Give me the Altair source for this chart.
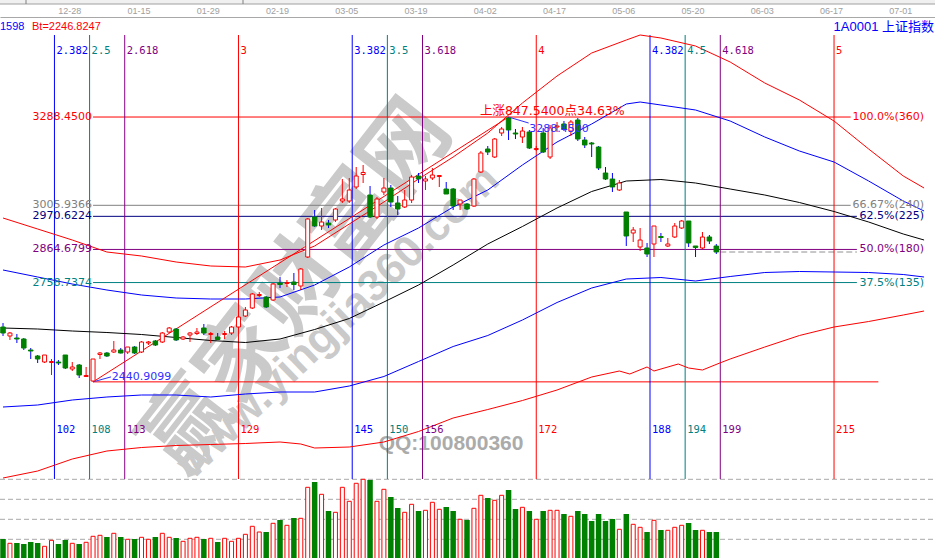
import altair as alt
import pandas as pd

# Daily K-line of the Shanghai Composite (1A0001) with Fibonacci time zones
# and retracement levels measured from the 2440.91 swing low.
# Bars are numbered t; bar t occupies slot t of the time count.
FIRST_BAR = 95

opens = [2616.5, 2587.7, 2581.3, 2578.1, 2542.9, 2523.7, 2504.5, 2502.9, 2504.5, 2526.9,
         2482.1, 2494.9, 2458.1, 2443.7, 2528.5, 2533.3, 2536.5, 2542.9, 2536.5, 2552.5,
         2536.5, 2565.3, 2571.7, 2568.5, 2600.5, 2610.1, 2578.1, 2590.9, 2595.7, 2613.3,
         2592.5, 2584.5, 2592.5, 2597.3, 2616.5, 2651.7, 2677.3, 2717.3, 2712.5, 2702.9,
         2757.3, 2755.7, 2760.5, 2747.7, 2840.5, 2968.5, 2939.7, 2949.3, 2958.9, 3019.7,
         3019.7, 3064.5, 3104.5, 3038.9, 2968.5, 3048.5, 3061.3, 3013.3, 3000.5, 3022.9,
         3099.7, 3083.7, 3093.3, 3098.1, 3058.1, 3058.1, 3010.1, 3010.1, 3003.7, 3112.5,
         3186.1, 3160.5, 3237.3, 3285.3, 3237.3, 3224.5, 3240.5, 3184.5, 3237.3, 3160.5,
         3256.5, 3266.1, 3243.7, 3278.9, 3214.9, 3205.3, 3192.5, 3109.3, 3090.1, 3054.9,
         2984.5, 2917.3, 2872.5, 2869.3, 2882.1, 2906.1, 2875.7, 2904.5, 2933.3, 2955.7,
         2875.7, 2869.3, 2904.5, 2875.7]
closes = [2597.3, 2597.3, 2578.1, 2549.3, 2539.7, 2514.1, 2526.9, 2506.1, 2501.3, 2485.3,
          2488.5, 2462.9, 2461.3, 2514.1, 2533.3, 2523.7, 2542.9, 2533.3, 2552.5, 2533.3,
          2568.5, 2568.5, 2558.9, 2597.3, 2613.3, 2574.9, 2584.5, 2597.3, 2600.5, 2597.3,
          2595.7, 2576.5, 2595.7, 2616.5, 2648.5, 2670.9, 2722.1, 2720.5, 2680.5, 2754.1,
          2752.5, 2758.9, 2752.5, 2802.1, 2962.1, 2939.7, 2952.5, 2942.9, 2994.1, 3026.1,
          3054.9, 3099.7, 3110.9, 2968.5, 3026.1, 3061.3, 3016.5, 2994.1, 3022.9, 3096.5,
          3090.1, 3090.1, 3102.9, 3101.3, 3042.1, 3003.7, 3022.9, 2994.1, 3090.1, 3173.3,
          3176.5, 3218.1, 3250.1, 3246.9, 3234.1, 3243.7, 3189.3, 3187.7, 3176.5, 3253.3,
          3259.7, 3250.1, 3272.5, 3218.1, 3198.9, 3202.1, 3125.3, 3090.1, 3064.5, 3077.3,
          2907.7, 2926.9, 2894.9, 2850.1, 2939.7, 2902.9, 2882.1, 2939.7, 2955.7, 2885.3,
          2870.9, 2904.5, 2891.7, 2856.5]
highs = [2629.3, 2600.5, 2594.1, 2581.3, 2549.3, 2526.9, 2526.9, 2514.1, 2510.9, 2526.9,
         2504.5, 2498.1, 2488.5, 2514.1, 2536.5, 2536.5, 2571.7, 2549.3, 2552.5, 2555.7,
         2571.7, 2571.7, 2574.9, 2600.5, 2616.5, 2613.3, 2587.7, 2600.5, 2613.3, 2626.1,
         2600.5, 2597.3, 2603.7, 2619.7, 2654.9, 2680.5, 2725.3, 2728.5, 2715.7, 2757.3,
         2776.5, 2766.9, 2789.3, 2805.3, 2965.3, 2990.9, 2997.3, 2958.9, 2997.3, 3090.1,
         3093.3, 3128.5, 3134.9, 3067.7, 3032.5, 3093.3, 3070.9, 3035.7, 3054.9, 3102.9,
         3109.3, 3099.7, 3125.3, 3102.9, 3080.5, 3061.3, 3022.9, 3013.3, 3093.3, 3179.7,
         3195.7, 3221.3, 3256.5, 3288.45, 3250.1, 3256.5, 3246.9, 3195.7, 3253.3, 3262.9,
         3272.5, 3275.7, 3278.9, 3285.3, 3224.5, 3208.5, 3195.7, 3128.5, 3109.3, 3086.9,
         2984.5, 2936.5, 2933.3, 2885.3, 2939.7, 2917.3, 2901.3, 2949.3, 2958.9, 2955.7,
         2875.7, 2920.5, 2910.9, 2882.1]
lows = [2587.7, 2574.9, 2565.3, 2542.9, 2514.1, 2501.3, 2501.3, 2462.9, 2494.9, 2482.1,
        2475.7, 2453.3, 2456.5, 2440.91, 2514.1, 2520.5, 2533.3, 2531.7, 2530.1, 2530.1,
        2533.3, 2558.9, 2555.7, 2565.3, 2597.3, 2571.7, 2574.9, 2568.5, 2590.9, 2590.9,
        2565.3, 2574.9, 2578.1, 2590.9, 2613.3, 2648.5, 2674.1, 2712.5, 2677.3, 2699.7,
        2741.3, 2744.5, 2734.9, 2734.9, 2837.3, 2936.5, 2926.9, 2933.3, 2952.5, 3013.3,
        3013.3, 3058.1, 3077.3, 2965.3, 2962.1, 3038.9, 3000.5, 2974.9, 2997.3, 3013.3,
        3077.3, 3054.9, 3086.9, 3064.5, 3042.1, 2990.9, 2990.9, 2990.9, 3000.5, 3109.3,
        3166.9, 3157.3, 3227.7, 3214.9, 3218.1, 3205.3, 3186.1, 3179.7, 3173.3, 3154.1,
        3240.5, 3243.7, 3227.7, 3211.7, 3189.3, 3160.5, 3118.9, 3086.9, 3048.5, 3051.7,
        2875.7, 2888.5, 2859.7, 2840.5, 2840.5, 2888.5, 2872.5, 2901.3, 2930.1, 2872.5,
        2840.5, 2866.1, 2882.1, 2850.1]
volumes = [101.5, 80, 81.5, 76.5, 86.5, 81.5, 65, 95, 76.5, 96.5,
           80, 76.5, 85, 115, 120, 111.5, 130, 111.5, 100, 101.5,
           110, 100, 111.5, 130, 110, 106.5, 90, 105, 110, 101.5,
           105, 86.5, 105, 90, 105, 125, 165, 136.5, 136.5, 180,
           196.5, 170, 206.5, 205, 360, 386.5, 325, 241.5, 235, 360,
           290, 380, 400, 396.5, 290, 350, 311.5, 256.5, 235, 275,
           241.5, 245, 285, 250, 261.5, 241.5, 200, 196.5, 255, 320,
           306.5, 295, 320, 346.5, 251.5, 260, 241.5, 200, 241.5, 245,
           245, 226.5, 215, 241.5, 226.5, 191.5, 226.5, 191.5, 201.5, 150,
           226.5, 175, 160, 136.5, 195, 146.5, 145, 160, 170, 181.5,
           146.5, 145, 136.5, 136.5]

# Band / moving-average curves (sampled every five bars, extended forward)
ma_t = [95, 100, 105, 110, 115, 120, 125, 130, 135, 140, 145, 150, 155, 160,
        165, 170, 175, 180, 185, 190, 195, 200, 205, 210, 215, 220, 225, 228]
band_t = [95, 100, 105, 110, 115, 120, 125, 130, 135, 140, 145, 150, 155, 160,
          165, 170, 175, 180, 185, 187, 190, 195, 200, 205, 210, 215, 220, 225, 228]
upper_red = [2965.3, 2930.1, 2894.9, 2856.5, 2843.7, 2824.5, 2811.7, 2808.5, 2830.9, 2875.7,
             2946.1, 3016.5, 3090.1, 3160.5, 3237.3, 3333.3, 3419.7, 3493.3, 3534.9, 3550.9,
             3541.3, 3515.7, 3464.5, 3397.3, 3342.9, 3275.7, 3186.1, 3099.7, 3061.3]
upper_blue = [2798.9, 2776.5, 2754.1, 2734.9, 2718.9, 2709.3, 2706.1, 2706.1, 2712.5, 2750.9,
              2808.5, 2878.9, 2933.3, 3000.5, 3054.9, 3134.9, 3208.5, 3266.1, 3330.1, 3336.5,
              3326.9, 3310.9, 3275.7, 3224.5, 3179.7, 3144.5, 3083.7, 3019.7, 2987.7]
middle_black = [2613.3, 2610.1, 2603.7, 2598.9, 2592.5, 2582.9, 2573.3, 2566.9, 2578.1, 2608.5,
                2643.7, 2696.5, 2750.9, 2814.9, 2882.1, 2938.1, 2997.3, 3050.1, 3083.7, 3088.5,
                3077.3, 3058.1, 3038.9, 3014.9, 2986.1, 2952.5, 2914.1, 2894.9]
lower_blue = [2360.5, 2366.9, 2382.9, 2392.5, 2398.9, 2398.9, 2392.5, 2402.1, 2408.5, 2408.5,
              2427.7, 2458.1, 2506.1, 2554.1, 2589.3, 2638.9, 2694.9, 2741.3, 2770.1, 2774.9,
              2763.7, 2778.1, 2790.9, 2794.1, 2792.5, 2790.9, 2784.5, 2776.5]
lower_red_t = [95, 100, 105, 110, 115, 120, 125, 130, 135, 138, 140, 145, 150, 155, 160, 165,
               170, 175, 180, 184, 185.5, 188, 189, 192.5, 194, 196, 198.5, 200, 205, 210,
               215, 220, 225, 228]
lower_red = [2133.3, 2155.7, 2194.1, 2219.7, 2230.9, 2237.3, 2240.5, 2243.7, 2248.5, 2242.1,
             2229.3, 2232.5, 2248.5, 2282.1, 2325.3, 2352.5, 2381.3, 2414.9, 2456.5, 2475.7,
             2466.1, 2488.5, 2475.7, 2498.1, 2485.3, 2478.9, 2501.3, 2514.1, 2552.5, 2589.3,
             2616.5, 2634.1, 2654.9, 2667.7]

# Fibonacci time zones (base cycle of 43 bars)
TIME_BASE = 43
time_ratios = ['2.382', '2.5', '2.618', '3', '3.382', '3.5', '3.618', '4',
               '4.382', '4.5', '4.618', '5']
time_counts = [102, 108, 113, 129, 145, 150, 156, 172, 188, 194, 199, 215]
time_colors = ['#0000ff', '#008080', '#800080', '#ff0000'] * 3

# Fibonacci retracement of the swing
swing_low_t, swing_low = 108, 2440.9099
swing_high_t, swing_high = 168, 3288.4500
fib_prices = [3288.4500, 3005.9366, 2970.6224, 2864.6799, 2758.7374]
fib_texts = ['100.0%(360)', '66.67%(240)', '62.5%(225)', '50.0%(180)', '37.5%(135)']
fib_colors = ['#ff0000', '#808080', '#000080', '#800080', '#008080']
fib_end_t = [217.4, 217.4, 218.3, 218.3, 218.3]

date_labels = ['12-14', '12-28', '01-15', '01-29', '02-19', '03-05', '03-19',
               '04-02', '04-17', '05-06', '05-20', '06-03', '06-17', '07-01']
date_ticks = [94.55 + 10 * i for i in range(len(date_labels))]
vol_grid = [100, 200, 300, 400]

RED, GREEN = '#ff0000', '#008000'
PANE_TOP, PANE_BOTTOM = 3550.9, 2130.1        # price extent of the zone lines
TOP_LABEL_P, BOTTOM_LABEL_P = 3499.7, 2286.9  # rows for the zone captions
MONO = 'DejaVu Sans Mono'
SANS = 'DejaVu Sans'
CJK = 'DejaVu Sans, Noto Sans CJK SC'

# ---------------- tables ----------------
bars = list(range(FIRST_BAR, FIRST_BAR + len(opens)))
kline = pd.DataFrame({'t': bars, 'open': opens, 'close': closes,
                      'high': highs, 'low': lows, 'vol': volumes})
kline['dir'] = ['up' if c >= o else 'down' for o, c in zip(opens, closes)]
kline['base'] = 0

curves = pd.concat([
    pd.DataFrame({'t': band_t, 'p': upper_red, 'name': 'ur'}),
    pd.DataFrame({'t': band_t, 'p': upper_blue, 'name': 'ub'}),
    pd.DataFrame({'t': ma_t, 'p': middle_black, 'name': 'mk'}),
    pd.DataFrame({'t': ma_t, 'p': lower_blue, 'name': 'lb'}),
    pd.DataFrame({'t': lower_red_t, 'p': lower_red, 'name': 'lr'}),
])

zones = pd.DataFrame({'t': [TIME_BASE * float(r) for r in time_ratios],
                      'ratio': time_ratios, 'count': [str(c) for c in time_counts],
                      'color': time_colors, 'top': PANE_TOP, 'bottom': PANE_BOTTOM,
                      'top_lab': TOP_LABEL_P, 'bot_lab': BOTTOM_LABEL_P})

levels = pd.DataFrame({'t': swing_low_t, 't2': fib_end_t, 'p': fib_prices,
                       'left': [f'{p:.4f}' for p in fib_prices], 'right': fib_texts,
                       'color': fib_colors, 't_right': 228.0})

last_t = bars[-1]
low_line = pd.DataFrame({'t': [swing_low_t], 't2': [221.4], 'p': [swing_low]})
last_line = pd.DataFrame({'t': [last_t + 0.57], 't2': [218.3], 'p': [closes[-1]]})
trend = pd.DataFrame({'t': [swing_low_t], 't2': [swing_high_t],
                      'p': [swing_low], 'p2': [swing_high]})
links = pd.DataFrame({'t': [swing_low_t, swing_high_t], 't2': [110.6, 170.9],
                      'p': [swing_low, swing_high], 'p2': [2456.9, 3269.3]})
swing_notes = pd.DataFrame({
    't': [110.7, 171.0], 'p': [2458.1, 3250.1],
    'text': [f'{swing_low:.4f}', f'{swing_high:.4f}']})
rise = round(swing_high - swing_low, 2)
rise_note = pd.DataFrame({'t': [163.86], 'p': [3307.7],
                          'text': [f'上涨{rise:.4f}点34.63%']})
marks_wm = pd.DataFrame({'t': [137.7, 143.4], 'p': [2741.3, 2632.5],
                         'text': ['赢家财富网', 'www.yingjia360.com']})
qq = pd.DataFrame({'t': [159.7], 'p': [2243.7], 'text': ['QQ:100800360']})
vgrid = pd.DataFrame({'vol': vol_grid})
one = pd.DataFrame({'k': [0]})

# ---------------- scales / encodings ----------------
x_scale = alt.Scale(domain=[95.2857, 228.8571], nice=False, zero=False)
label_expr = ('[' + ','.join(f"'{d}'" for d in date_labels) + ']'
              '[round((datum.value - 94.55) / 10)]')
date_axis = alt.Axis(orient='top', values=date_ticks, labelExpr=label_expr, title=None,
                     ticks=False, grid=False, domainColor='#a8a8a8', domainWidth=1,
                     labelColor='#a0a0a0', labelFont='Liberation Sans', labelFontSize=9,
                     labelPadding=2, labelFlush=False, labelOverlap=False)
p_scale = alt.Scale(domain=[1877.3, 3608.5], nice=False, zero=False)
v_scale = alt.Scale(domain=[6.5, 2711.5], nice=False, zero=False)


def X(field='t'):
    return alt.X(f'{field}:Q', scale=x_scale, axis=date_axis)


def PY(field='p'):
    return alt.Y(f'{field}:Q', scale=p_scale, axis=None)


def VY(field='vol'):
    return alt.Y(f'{field}:Q', scale=v_scale, axis=None)


COL = alt.Color('color:N', scale=None)
layers = []

# watermark
layers.append(alt.Chart(marks_wm.iloc[[0]]).mark_text(
    angle=308, font='Noto Sans CJK SC', fontSize=88, fontWeight='bold', color='#cacaca'
).encode(x=X(), y=PY(), text='text:N'))
layers.append(alt.Chart(marks_wm.iloc[[1]]).mark_text(
    angle=316, font='Liberation Sans', fontSize=44, fontWeight='bold', color='#cacaca'
).encode(x=X(), y=PY(), text='text:N'))
layers.append(alt.Chart(qq).mark_text(
    font='Liberation Sans', fontSize=21, fontWeight='bold', color='#ababab'
).encode(x=X(), y=PY(), text='text:N'))

# volume grid
layers.append(alt.Chart(vgrid).mark_rule(color='#a8a8a8', strokeDash=[5, 3], strokeWidth=1)
              .encode(x=alt.value(0), x2=alt.value(935), y=VY()))

# retracement levels
layers.append(alt.Chart(levels).mark_rule(strokeWidth=1)
              .encode(x=X(), x2='t2:Q', y=PY(), color=COL))
layers.append(alt.Chart(low_line).mark_rule(color=RED, strokeWidth=1)
              .encode(x=X(), x2='t2:Q', y=PY()))
layers.append(alt.Chart(last_line).mark_rule(color='#909090', strokeDash=[6, 3], strokeWidth=1)
              .encode(x=X(), x2='t2:Q', y=PY()))

# time zones
layers.append(alt.Chart(zones).mark_rule(strokeWidth=1)
              .encode(x=X(), y=PY('top'), y2='bottom:Q', color=COL))

# band curves
layers.append(alt.Chart(curves).mark_line(strokeWidth=1).encode(
    x=X(), y=PY(), detail='name:N',
    color=alt.Color('name:N', legend=None,
                    scale=alt.Scale(domain=['ur', 'ub', 'mk', 'lb', 'lr'],
                                    range=[RED, '#0000ff', '#000000', '#0000ff', RED]))))

# swing trend line and label connectors
layers.append(alt.Chart(trend).mark_rule(color=RED, strokeWidth=1)
              .encode(x=X(), x2='t2:Q', y=PY(), y2='p2:Q'))
layers.append(alt.Chart(links).mark_rule(color='#3030ff', strokeWidth=1)
              .encode(x=X(), x2='t2:Q', y=PY(), y2='p2:Q'))

# candles
kc = alt.Chart(kline)
layers.append(kc.mark_rule(strokeWidth=1).encode(
    x=X(), y=PY('low'), y2='high:Q',
    color=alt.Color('dir:N', legend=None,
                    scale=alt.Scale(domain=['up', 'down'], range=[RED, GREEN]))))
layers.append(kc.transform_filter("datum.dir == 'up'")
              .mark_bar(size=4, fill='white', stroke=RED, strokeWidth=1)
              .encode(x=X(), y=PY('open'), y2='close:Q'))
layers.append(kc.transform_filter("datum.dir == 'down'")
              .mark_bar(size=4.5, fill=GREEN, stroke=GREEN, strokeWidth=1)
              .encode(x=X(), y=PY('open'), y2='close:Q'))

# volume
layers.append(kc.transform_filter("datum.dir == 'up'")
              .mark_bar(size=4, fill='white', stroke=RED, strokeWidth=1)
              .encode(x=X(), y=VY(), y2='base:Q'))
layers.append(kc.transform_filter("datum.dir == 'down'")
              .mark_bar(size=5.5, fill=GREEN)
              .encode(x=X(), y=VY(), y2='base:Q'))

# captions
layers.append(alt.Chart(zones).mark_text(align='left', baseline='middle', dx=2,
                                         font=MONO, fontSize=10.5)
              .encode(x=X(), y=PY('top_lab'), text='ratio:N', color=COL))
layers.append(alt.Chart(zones).mark_text(align='left', baseline='middle', dx=2,
                                         font=MONO, fontSize=10.5)
              .encode(x=X(), y=PY('bot_lab'), text='count:N', color=COL))
layers.append(alt.Chart(levels).mark_text(align='right', baseline='middle', dx=-1,
                                          font=SANS, fontSize=11)
              .encode(x=X(), y=PY(), text='left:N', color=COL))
layers.append(alt.Chart(levels).mark_text(align='right', baseline='middle',
                                          font=SANS, fontSize=11)
              .encode(x=X('t_right'), y=PY(), text='right:N', color=COL))
layers.append(alt.Chart(swing_notes).mark_text(align='left', baseline='middle',
                                               font=SANS, fontSize=11, color='#3030ff')
              .encode(x=X(), y=PY(), text='text:N'))
layers.append(alt.Chart(rise_note).mark_text(align='left', baseline='middle',
                                             font=CJK, fontSize=12.5, color=RED)
              .encode(x=X(), y=PY(), text='text:N'))

# header row and scroll strip
layers.append(alt.Chart(one).mark_text(align='left', baseline='middle', font='Liberation Sans',
                                       fontSize=11, color='#0000ff', text='1598')
              .encode(x=alt.value(0), y=alt.value(10)))
layers.append(alt.Chart(one).mark_text(align='left', baseline='middle', font='Liberation Sans',
                                       fontSize=11, color=RED, text='Bt=2246.8247')
              .encode(x=alt.value(32), y=alt.value(10)))
layers.append(alt.Chart(one).mark_text(align='right', baseline='middle',
                                       font='Liberation Sans, Noto Sans CJK SC',
                                       fontSize=13, color='#0000ff', text='1A0001 上证指数')
              .encode(x=alt.value(934), y=alt.value(10)))
layers.append(alt.Chart(one).mark_rect(fill='#f0f0f0')
              .encode(x=alt.value(0), x2=alt.value(935), y=alt.value(-17), y2=alt.value(-13)))
layers.append(alt.Chart(one).mark_rule(color='#a0a0a0', strokeWidth=1)
              .encode(x=alt.value(0), x2=alt.value(935), y=alt.value(-13)))
layers.append(alt.Chart(pd.DataFrame({'px': [26, 243]})).mark_rule(color='#808080')
              .encode(x=alt.X('px:Q', scale=None, axis=None), y=alt.value(-17), y2=alt.value(-13)))

chart = (alt.layer(*layers)
         .properties(width=935, height=541,
                     padding={'left': 0, 'right': 0, 'top': 17, 'bottom': 0},
                     autosize=alt.AutoSizeParams(type='none'))
         .resolve_scale(y='independent')
         .configure(background='white')
         .configure_view(stroke=None))

chart.save('out.html', embed_options={'renderer': 'svg', 'actions': False})
